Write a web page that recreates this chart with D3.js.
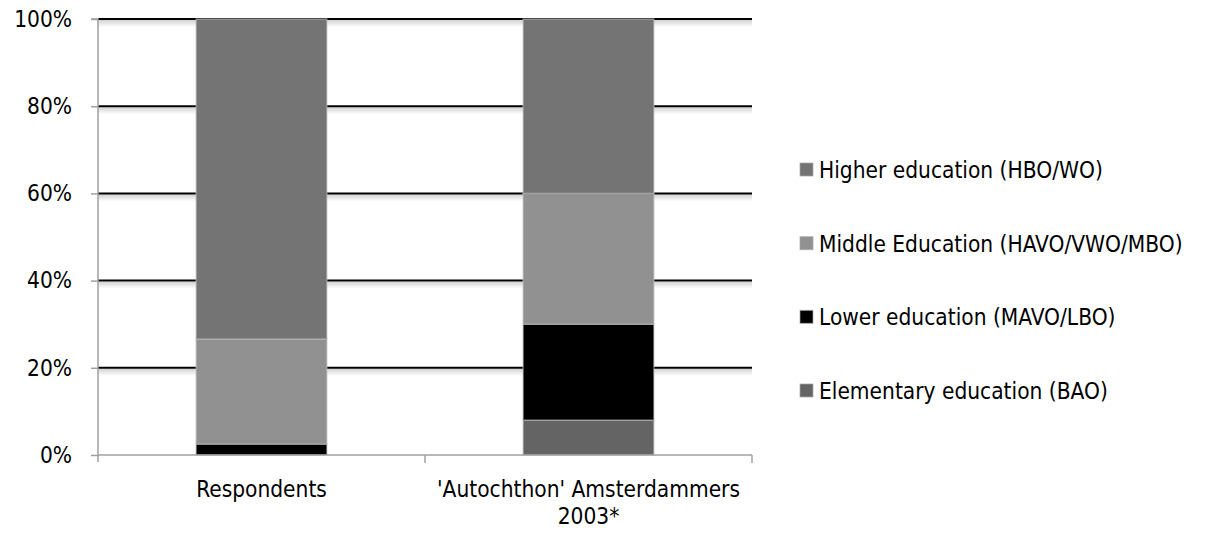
<!DOCTYPE html>
<html>
<head>
<meta charset="utf-8">
<script src="https://cdn.jsdelivr.net/npm/d3@7"></script>
<style>
  html, body { margin: 0; padding: 0; background: #ffffff; }
  svg { display: block; }
  text { font-family: "DejaVu Sans Condensed", "DejaVu Sans", Verdana, sans-serif; fill: #000; }
</style>
</head>
<body>
<svg id="chart" width="1215" height="536"></svg>
<script>
// Education level shares (%) per group, stacked bottom to top
const categories = ["Respondents", "'Autochthon' Amsterdammers 2003*"];
const categoryLines = [["Respondents"], ["'Autochthon' Amsterdammers", "2003*"]];
const seriesNames = [
  "Elementary education (BAO)",
  "Lower education (MAVO/LBO)",
  "Middle Education (HAVO/VWO/MBO)",
  "Higher education (HBO/WO)"
];
const elementary = [0, 8];
const lower = [2.5, 22];
const middle = [24.1, 30];
const higher = [73.4, 40];
const seriesColors = ["#646464", "#000000", "#919191", "#747474"];
const yTicks = [0, 20, 40, 60, 80, 100];

const svg = d3.select("#chart");
const plot = { left: 98, right: 752, top: 19, bottom: 455 };
const fontSize = "22.5px";

const rows = categories.map((c, i) => ({
  category: c,
  [seriesNames[0]]: elementary[i],
  [seriesNames[1]]: lower[i],
  [seriesNames[2]]: middle[i],
  [seriesNames[3]]: higher[i]
}));

const x = d3.scaleBand()
  .domain(categories)
  .range([plot.left, plot.right])
  .paddingInner(0.6)
  .paddingOuter(0.3);

const y = d3.scaleLinear().domain([0, 100]).range([plot.bottom, plot.top]);

const color = d3.scaleOrdinal().domain(seriesNames).range(seriesColors);

const stacked = d3.stack().keys(seriesNames)(rows);

// soft shadow gradient under each gridline
const defs = svg.append("defs");
const grad = defs.append("linearGradient").attr("id", "gridShade")
  .attr("x1", 0).attr("y1", 0).attr("x2", 0).attr("y2", 1);
grad.append("stop").attr("offset", "0%").attr("stop-color", "#000").attr("stop-opacity", 0.18);
grad.append("stop").attr("offset", "100%").attr("stop-color", "#000").attr("stop-opacity", 0);

const gridValues = yTicks.filter(d => d > 0);
const grid = svg.append("g");
grid.selectAll("rect")
  .data(gridValues)
  .join("rect")
  .attr("x", plot.left)
  .attr("width", plot.right - plot.left)
  .attr("y", d => y(d) + 1)
  .attr("height", 7)
  .attr("fill", "url(#gridShade)");
grid.selectAll("line")
  .data(gridValues)
  .join("line")
  .attr("x1", plot.left)
  .attr("x2", plot.right)
  .attr("y1", d => y(d))
  .attr("y2", d => y(d))
  .attr("stroke", "#000")
  .attr("stroke-width", 2);

// stacked bars
svg.append("g")
  .selectAll("g")
  .data(stacked)
  .join("g")
  .attr("fill", d => color(d.key))
  .selectAll("rect")
  .data(d => d)
  .join("rect")
  .attr("x", d => x(d.data.category))
  .attr("width", x.bandwidth())
  .attr("y", d => y(d[1]))
  .attr("height", d => Math.max(0, y(d[0]) - y(d[1])))
  .attr("stroke", d => (d[1] - d[0]) > 0 ? "rgba(190,190,190,0.55)" : "none")
  .attr("stroke-width", 1.5);

// y axis
const yAxis = d3.axisLeft(y)
  .tickValues(yTicks)
  .tickFormat(d => d + "%")
  .tickSize(7)
  .tickPadding(19);
const gy = svg.append("g")
  .attr("transform", `translate(${plot.left},0)`)
  .call(yAxis);
gy.select(".domain").attr("stroke", "#a0a0a0").attr("stroke-width", 1.5)
  .attr("d", `M-7,${plot.top}H0V${plot.bottom + 7}`);
gy.selectAll(".tick line").attr("stroke", "#a0a0a0").attr("stroke-width", 1.5);
gy.selectAll(".tick text")
  .style("font-size", fontSize)
  .attr("fill", "#000");

// x axis line with category boundary ticks
const gx = svg.append("g");
gx.append("line")
  .attr("x1", plot.left).attr("x2", plot.right)
  .attr("y1", plot.bottom).attr("y2", plot.bottom)
  .attr("stroke", "#a0a0a0").attr("stroke-width", 1.5);
const boundaries = categories.map(c => x(c) - x.step() * x.paddingInner() / 2 + x.step());
gx.selectAll("line.bt")
  .data(boundaries)
  .join("line")
  .attr("class", "bt")
  .attr("x1", d => d).attr("x2", d => d)
  .attr("y1", plot.bottom).attr("y2", plot.bottom + 8)
  .attr("stroke", "#a0a0a0").attr("stroke-width", 1.5);

// category labels
gx.selectAll("text.cat")
  .data(categories)
  .join("text")
  .attr("class", "cat")
  .attr("text-anchor", "middle")
  .style("font-size", fontSize)
  .attr("transform", d => `translate(${x(d) + x.bandwidth() / 2},${plot.bottom + 42})`)
  .each(function(d, i) {
    const t = d3.select(this);
    categoryLines[i].forEach((line, j) => {
      t.append("tspan").attr("x", 0).attr("dy", j === 0 ? 0 : 27).text(line);
    });
  });

// legend (top to bottom = stack top to bottom)
const legendItems = seriesNames.slice().reverse();
const legendY = d3.scalePoint().domain(legendItems).range([170, 391]);
const lg = svg.append("g").selectAll("g")
  .data(legendItems)
  .join("g")
  .attr("transform", d => `translate(800,${legendY(d)})`);
lg.append("rect")
  .attr("x", 0).attr("y", -7)
  .attr("width", 13).attr("height", 13)
  .attr("fill", d => color(d))
  .attr("stroke", "rgba(170,170,170,0.7)")
  .attr("stroke-width", 1);
lg.append("text")
  .attr("x", 19)
  .attr("dy", "0.36em")
  .style("font-size", fontSize)
  .text(d => d);
</script>
</body>
</html>
